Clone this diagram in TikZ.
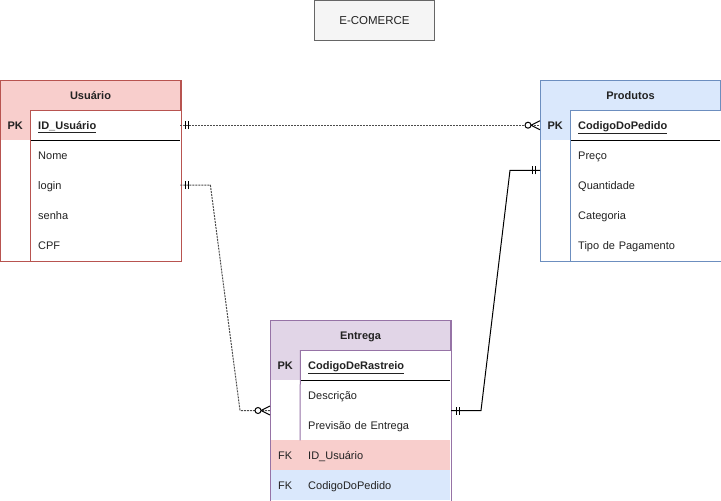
\documentclass[tikz,border=0pt]{standalone}
\usepackage{fontspec}
\setmainfont{Liberation Sans}
\definecolor{redfill}{HTML}{F8CECC}
\definecolor{redline}{HTML}{B85450}
\definecolor{bluefill}{HTML}{DAE8FC}
\definecolor{blueline}{HTML}{6C8EBF}
\definecolor{purfill}{HTML}{E1D5E7}
\definecolor{purline}{HTML}{9673A6}
\definecolor{grayfill}{HTML}{F5F5F5}
\definecolor{grayline}{HTML}{666666}
\definecolor{txtcol}{HTML}{222222}
\newcommand\ermOneR[1]{%
  \draw[erm] ([xshift=5pt,yshift=-4pt]#1) -- ([xshift=5pt,yshift=4pt]#1);
  \draw[erm] ([xshift=8pt,yshift=-4pt]#1) -- ([xshift=8pt,yshift=4pt]#1);}
\newcommand\ermOneL[1]{%
  \draw[erm] ([xshift=-5pt,yshift=-4pt]#1) -- ([xshift=-5pt,yshift=4pt]#1);
  \draw[erm] ([xshift=-8pt,yshift=-4pt]#1) -- ([xshift=-8pt,yshift=4pt]#1);}
\newcommand\ermManyL[1]{%
  \draw[erm] ([xshift=-9pt]#1) -- ([yshift=4.5pt]#1);
  \draw[erm] ([xshift=-9pt]#1) -- ([yshift=-4.5pt]#1);
  \draw[erm, fill=white] ([xshift=-12pt]#1) circle (3pt);}
\newcommand\pkul[1]{\textbf{\underline{#1}}}
\begin{document}
\begin{tikzpicture}[x=1pt,y=-1pt,
  txt/.style={font=\fontsize{11pt}{13pt}\selectfont, text=txtcol, text height=11pt, text depth=2.5pt},
  hdr/.style={txt, font=\fontsize{11pt}{13pt}\selectfont\bfseries, anchor=north west, minimum width=180pt, minimum height=30pt, inner sep=0pt, line width=1pt},
  key/.style={txt, anchor=north west, minimum width=30pt, minimum height=30pt, inner sep=0pt},
  pkey/.style={key, font=\fontsize{11pt}{13pt}\selectfont\bfseries},
  fld/.style={txt, anchor=north west, minimum height=30pt, text width=134pt, inner xsep=8pt, inner ysep=0pt, align=left},
  tbl/.style={anchor=north west, minimum width=180pt, minimum height=180pt, inner sep=0pt, line width=1pt},
  rel/.style={draw=black!70, dash pattern=on 2pt off 1pt, line width=1pt},
  relsolid/.style={draw=black, line width=1pt},
  erm/.style={draw=black, solid, line width=1pt},
  sep/.style={line width=1pt}
]
\useasboundingbox (0,0) rectangle (721,501);

% title
\node[txt, font=\fontsize{11.5pt}{13pt}\selectfont, draw=grayline, fill=grayfill, line width=1pt, minimum width=120pt, minimum height=40pt, anchor=north west, inner sep=0pt] (title) at (314,0) {E-COMERCE};

% ---------- Usuario ----------
\node[tbl, fill=white] (usr) at (0,80) {};
\node[hdr, fill=redfill, draw=redline] (usr-h) at (0,80) {Usuário};
\node[pkey, fill=redfill] (usr-pk) at (0,110) {PK};
\node[fld] (usr-id) at (30,110) {\pkul{ID\_Usuário}};
\node[fld] (usr-nome) at (30,140) {Nome};
\node[fld] (usr-login) at (30,170) {login};
\node[fld] (usr-senha) at (30,200) {senha};
\node[fld] (usr-cpf) at (30,230) {CPF};
\draw[sep, black] (usr-id.south west) -- (usr-id.south east);
\draw[sep, redline] (usr-pk.north east) -- (usr-pk.north east |- usr.south);
\draw[redline, line width=1pt] (usr.north west) rectangle (usr.south east);

% ---------- Produtos ----------
\node[tbl, fill=white] (prd) at (540,80) {};
\node[hdr, fill=bluefill, draw=blueline] (prd-h) at (540,80) {Produtos};
\node[pkey, fill=bluefill] (prd-pk) at (540,110) {PK};
\node[fld] (prd-id) at (570,110) {\pkul{CodigoDoPedido}};
\node[fld] (prd-preco) at (570,140) {Preço};
\node[fld] (prd-qtd) at (570,170) {Quantidade};
\node[fld] (prd-cat) at (570,200) {Categoria};
\node[fld] (prd-tipo) at (570,230) {Tipo de Pagamento};
\draw[sep, black] (prd-id.south west) -- (prd-id.south east);
\draw[sep, blueline] (prd-pk.north east) -- (prd-pk.north east |- prd.south);
\draw[blueline, line width=1pt] (prd.north west) rectangle (prd.south east);
\coordinate (prd-in) at (prd-preco.south -| prd.west);

% ---------- Entrega ----------
\node[tbl, fill=white] (ent) at (270,320) {};
\fill[redfill] (270,440) rectangle (450,470);
\fill[bluefill] (270,470) rectangle (450,500);
\node[hdr, fill=purfill, draw=purline] (ent-h) at (270,320) {Entrega};
\node[pkey, fill=purfill] (ent-pk) at (270,350) {PK};
\node[fld] (ent-id) at (300,350) {\pkul{CodigoDeRastreio}};
\node[fld] (ent-desc) at (300,380) {Descrição};
\node[fld] (ent-prev) at (300,410) {Previsão de Entrega};
\node[key] (ent-fk1) at (270,440) {FK};
\node[fld] (ent-usr) at (300,440) {ID\_Usuário};
\node[key] (ent-fk2) at (270,470) {FK};
\node[fld] (ent-ped) at (300,470) {CodigoDoPedido};
\draw[sep, black] (ent-id.south west) -- (ent-id.south east);
\draw[sep, purline] (ent-pk.north east) -- (ent-prev.south west);
\draw[purline, line width=1pt] (ent.north west) rectangle (ent.south east);

% ---------- relations ----------
\draw[rel] (usr-id.east) -- (prd-pk.west);
\ermOneR{usr-id.east}
\ermManyL{prd-pk.west}

\draw[rel] (usr-login.east) -- ++(30,0) -- ([xshift=-30pt]ent.west) -- (ent.west);
\ermOneR{usr-login.east}
\ermManyL{ent.west}

\draw[relsolid] (ent.east) -- ++(30,0) -- ([xshift=-30pt]prd-in) -- (prd-in);
\ermOneR{ent.east}
\ermOneL{prd-in}
\end{tikzpicture}
\end{document}
